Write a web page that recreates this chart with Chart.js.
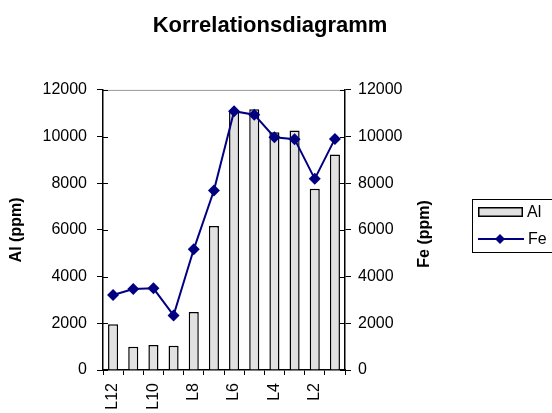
<!DOCTYPE html>
<html>
<head>
<meta charset="utf-8">
<script src="https://cdn.jsdelivr.net/npm/chart.js@4.4.0/dist/chart.umd.min.js"></script>
<style>
  html, body { margin: 0; padding: 0; background: #fff; }
  #wrap { width: 552px; height: 413px; }
</style>
</head>
<body>
<div id="wrap"><canvas id="korr" width="552" height="413"></canvas></div>
<script>
// ---------------- data ----------------
var categories = ['L12', 'L11', 'L10', 'L9', 'L8', 'L7', 'L6', 'L5', 'L4', 'L3', 'L2', 'L1'];
var xTickLabels = ['L12', 'L10', 'L8', 'L6', 'L4', 'L2'];
var alValues = [1960, 1000, 1070, 1040, 2490, 6170, 11140, 11170, 10190, 10260, 7770, 9230];
var feValues = [3210, 3470, 3500, 2340, 5170, 7690, 11090, 10940, 9970, 9890, 8190, 9900];
var yTicks = [0, 2000, 4000, 6000, 8000, 10000, 12000];

Chart.defaults.font.family = '"Liberation Sans", Arial, sans-serif';
Chart.defaults.color = '#000';

function setTicks(scale) {
  scale.ticks = yTicks.map(function (v) { return { value: v }; });
}
function plainNum(v) { return String(v); }

// top border, inner tick marks, right axis title, legend box
var extras = {
  id: 'extras',
  afterDraw: function (chart) {
    var ctx = chart.ctx, a = chart.chartArea;
    var bars = chart.data.datasets[0], line = chart.data.datasets[1];
    ctx.save();
    ctx.strokeStyle = '#999';
    ctx.lineWidth = 1;
    ctx.beginPath();
    ctx.moveTo(a.left, a.top + 0.5);
    ctx.lineTo(a.right, a.top + 0.5);
    ctx.stroke();

    ctx.strokeStyle = '#000';
    ctx.beginPath();
    yTicks.forEach(function (v) {
      var y = Math.round(chart.scales.y.getPixelForValue(v)) + 0.5;
      ctx.moveTo(a.left, y); ctx.lineTo(a.left + 5, y);
      ctx.moveTo(a.right - 5, y); ctx.lineTo(a.right, y);
    });
    ctx.stroke();

    // legend
    ctx.lineWidth = 1;
    ctx.strokeRect(472.5, 199.5, 100, 53);
    ctx.fillStyle = bars.backgroundColor;
    ctx.fillRect(478, 207, 45, 10);
    ctx.lineWidth = 1.5;
    ctx.strokeRect(478.75, 207.75, 43.5, 8.5);
    ctx.strokeStyle = line.borderColor;
    ctx.lineWidth = 2;
    ctx.beginPath();
    ctx.moveTo(478, 239); ctx.lineTo(524, 239);
    ctx.stroke();
    ctx.fillStyle = line.pointBackgroundColor;
    ctx.beginPath();
    ctx.moveTo(500, 234); ctx.lineTo(505, 239); ctx.lineTo(500, 244); ctx.lineTo(495, 239);
    ctx.closePath();
    ctx.fill();
    ctx.fillStyle = '#000';
    ctx.font = '16px "Liberation Sans", Arial, sans-serif';
    ctx.textAlign = 'left';
    ctx.textBaseline = 'middle';
    ctx.fillText(bars.label, 527, 213);
    ctx.fillText(line.label, 528, 240);

    // right axis title
    ctx.translate(425, (a.top + a.bottom) / 2 + 4);
    ctx.rotate(-Math.PI / 2);
    ctx.font = 'bold 16px "Liberation Sans", Arial, sans-serif';
    ctx.textAlign = 'center';
    ctx.fillText('Fe (ppm)', 0, 0);
    ctx.restore();
  }
};

var ctx = document.getElementById('korr').getContext('2d');
var chart = new Chart(ctx, {
  type: 'bar',
  data: {
    labels: categories,
    datasets: [
      {
        label: 'Al',
        data: alValues,
        yAxisID: 'y',
        backgroundColor: '#e1e1e1',
        borderColor: '#000',
        borderWidth: 1.5,
        barPercentage: 0.5,
        categoryPercentage: 1,
        order: 1
      },
      {
        type: 'line',
        label: 'Fe',
        data: feValues,
        yAxisID: 'y1',
        borderColor: '#000080',
        borderWidth: 2,
        pointStyle: 'rectRot',
        pointRadius: 6,
        pointBackgroundColor: '#000080',
        pointBorderColor: '#000080',
        pointBorderWidth: 0,
        tension: 0,
        order: 0
      }
    ]
  },
  options: {
    responsive: false,
    animation: false,
    devicePixelRatio: 1,
    layout: { padding: { left: 0, right: 12, top: 0, bottom: 0 } },
    plugins: {
      legend: { display: false },
      tooltip: { enabled: false },
      title: {
        display: true,
        text: 'Korrelationsdiagramm',
        color: '#000',
        font: { size: 22, weight: 'bold' },
        padding: { top: 12.5, bottom: 51 }
      }
    },
    scales: {
      x: {
        grid: { drawOnChartArea: false, tickLength: 5, color: '#000', offset: true },
        border: { color: '#000', width: 1.5 },
        ticks: {
          autoSkip: false,
          minRotation: 90,
          maxRotation: 90,
          padding: 8,
          font: { size: 16 },
          callback: function (v) {
            var lbl = this.getLabelForValue(v);
            return xTickLabels.indexOf(lbl) >= 0 ? lbl : '';
          }
        },
        afterFit: function (s) { s.height = 43; }
      },
      y: {
        position: 'left',
        min: 0,
        max: 12000,
        afterBuildTicks: setTicks,
        grid: { drawOnChartArea: false, tickLength: 6, color: '#000' },
        border: { color: '#000', width: 1.5 },
        ticks: { padding: 10, font: { size: 16 }, callback: plainNum },
        title: {
          display: true,
          text: 'Al (ppm)',
          font: { size: 16, weight: 'bold' },
          padding: { top: 7, bottom: 0 }
        },
        afterFit: function (s) { s.width = 103; }
      },
      y1: {
        position: 'right',
        min: 0,
        max: 12000,
        afterBuildTicks: setTicks,
        grid: { drawOnChartArea: false, tickLength: 6, color: '#000' },
        border: { color: '#000', width: 1.5 },
        ticks: { padding: 7, font: { size: 16 }, callback: plainNum },
        afterFit: function (s) { s.width = 195; }
      }
    }
  },
  plugins: [extras]
});
</script>
</body>
</html>
